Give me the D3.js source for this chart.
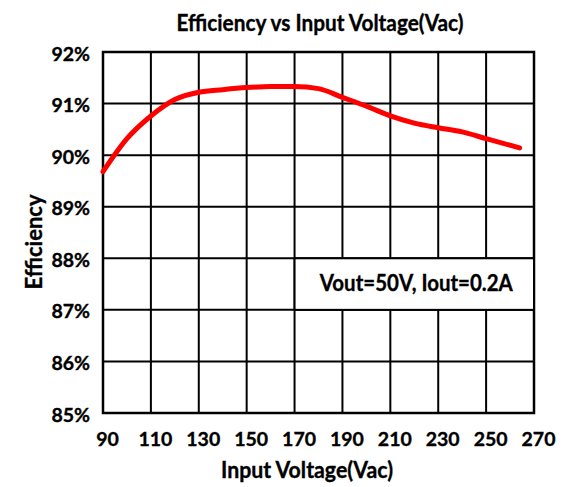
<!DOCTYPE html>
<html>
<head>
<meta charset="utf-8">
<script src="https://cdn.jsdelivr.net/npm/d3@7"></script>
<style>
  html, body { margin: 0; padding: 0; background: #fff; }
  svg { display: block; }
  text { font-family: "Liberation Sans Narrow", "Lato", "Open Sans", sans-serif; font-weight: bold; fill: #000; stroke: #000; stroke-width: 0.35px; }
</style>
</head>
<body>
<svg id="chart" width="563" height="487"></svg>
<script>
// Input voltage (Vac) and measured efficiency (%)
const inputVoltage = [90, 100, 110, 120, 130, 140, 150, 160, 170, 180, 190, 200, 210, 220, 230, 240, 250, 264];
const efficiency   = [89.68, 90.32, 90.76, 91.08, 91.22, 91.27, 91.31, 91.33, 91.33, 91.29, 91.12, 90.95, 90.76, 90.62, 90.53, 90.45, 90.32, 90.14];

const xTicks = [90, 110, 130, 150, 170, 190, 210, 230, 250, 270];
const yTicks = [85, 86, 87, 88, 89, 90, 91, 92];

const chartTitle = "Efficiency vs Input Voltage(Vac)";
const xTitle = "Input Voltage(Vac)";
const yTitle = "Efficiency";
const conditionLabel = "Vout=50V, Iout=0.2A";

const margin = { left: 103, right: 29, top: 52, bottom: 74 };
const W = 563, H = 487;

const svg = d3.select("#chart");

const x = d3.scaleLinear().domain([90, 270]).range([margin.left, W - margin.right]);
const y = d3.scaleLinear().domain([85, 92]).range([H - margin.bottom, margin.top]);

// grid
const grid = svg.append("g").attr("stroke", "#000").attr("stroke-width", 2);
grid.selectAll("line.v").data(xTicks).join("line")
  .attr("class", "v")
  .attr("x1", d => x(d)).attr("x2", d => x(d))
  .attr("y1", y(85)).attr("y2", y(92));
grid.selectAll("line.h").data(yTicks).join("line")
  .attr("class", "h")
  .attr("x1", x(90)).attr("x2", x(270))
  .attr("y1", d => y(d)).attr("y2", d => y(d));

// plot border
svg.append("rect")
  .attr("x", x(90)).attr("y", y(92))
  .attr("width", x(270) - x(90)).attr("height", y(85) - y(92))
  .attr("fill", "none").attr("stroke", "#000").attr("stroke-width", 2.5);

// operating-condition box
const box = svg.append("g");
box.append("rect")
  .attr("x", x(170)).attr("y", y(88))
  .attr("width", x(270) - x(170)).attr("height", y(87) - y(88))
  .attr("fill", "#fff").attr("stroke", "#000").attr("stroke-width", 2);
box.append("text")
  .attr("x", (x(170) + x(270)) / 2 + 2).attr("y", y(88) + 33)
  .attr("text-anchor", "middle")
  .attr("font-size", 22)
  .attr("textLength", 193).attr("lengthAdjust", "spacingAndGlyphs")
  .text(conditionLabel);

// efficiency curve
const line = d3.line()
  .x((d, i) => x(inputVoltage[i]))
  .y(d => y(d))
  .curve(d3.curveMonotoneX);
svg.append("path")
  .datum(efficiency)
  .attr("d", line)
  .attr("fill", "none")
  .attr("stroke", "#ff0000")
  .attr("stroke-width", 5)
  .attr("stroke-linecap", "round")
  .attr("stroke-linejoin", "round");

// axes labels
const xAxis = d3.axisBottom(x).tickValues(xTicks).tickSize(0).tickPadding(0).tickFormat(d3.format("d"));
const gx = svg.append("g").attr("transform", `translate(4,${y(85)})`).call(xAxis);
gx.select(".domain").remove();
gx.selectAll("text")
  .attr("y", 33).attr("dy", null)
  .attr("font-size", 19.5)
  .attr("font-family", null);

const yAxis = d3.axisLeft(y).tickValues(yTicks).tickSize(0).tickPadding(0).tickFormat(d => d + "%");
const gy = svg.append("g").attr("transform", `translate(90,0)`).call(yAxis);
gy.select(".domain").remove();
gy.selectAll("text")
  .attr("dy", 8)
  .attr("font-size", 19.5)
  .attr("font-family", null);

// titles
svg.append("text")
  .attr("x", 320).attr("y", 31)
  .attr("text-anchor", "middle")
  .attr("font-size", 22)
  .attr("textLength", 287).attr("lengthAdjust", "spacingAndGlyphs")
  .text(chartTitle);

svg.append("text")
  .attr("x", 307).attr("y", 478)
  .attr("text-anchor", "middle")
  .attr("font-size", 22)
  .attr("textLength", 172).attr("lengthAdjust", "spacingAndGlyphs")
  .text(xTitle);

svg.append("text")
  .attr("transform", "translate(42,242) rotate(-90)")
  .attr("text-anchor", "middle")
  .attr("font-size", 22)
  .attr("textLength", 95).attr("lengthAdjust", "spacingAndGlyphs")
  .text(yTitle);
</script>
</body>
</html>
